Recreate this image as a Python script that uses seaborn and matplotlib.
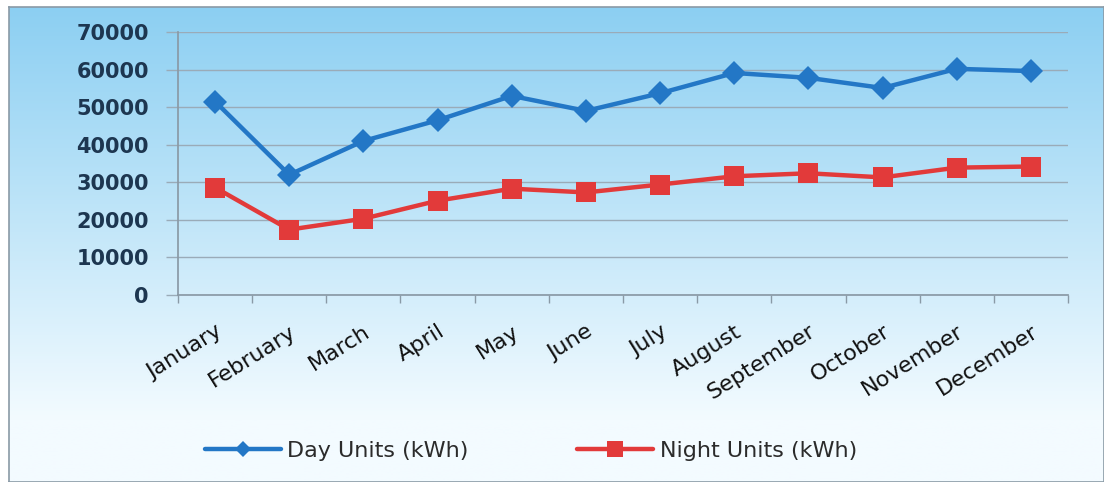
import numpy as np
import pandas as pd
import matplotlib
matplotlib.use("Agg")
import matplotlib.pyplot as plt
import seaborn as sns

months = ["January", "February", "March", "April", "May", "June", "July",
          "August", "September", "October", "November", "December"]
day_units = [51500, 32000, 41000, 46500, 53000, 49000, 53700, 59100, 57800, 55100, 60200, 59600]
night_units = [28600, 17400, 20300, 25100, 28300, 27300, 29400, 31600, 32400, 31300, 33900, 34200]
series_names = ["Day Units (kWh)", "Night Units (kWh)"]
yticks = [0, 10000, 20000, 30000, 40000, 50000, 60000, 70000]

df = pd.DataFrame({
    "month": months * 2,
    "units": day_units + night_units,
    "series": [series_names[0]] * len(months) + [series_names[1]] * len(months),
})

sns.set_theme(style="white")
plt.rcParams["font.family"] = ["DejaVu Sans"]

W, H = 1104, 482
fig = plt.figure(figsize=(W / 100, H / 100), dpi=100)
fig.patch.set_facecolor("white")

# background gradient panel
bg = fig.add_axes([9 / W, 0, 1 - 9 / W, 1 - 7 / H], zorder=0)
top = np.array([0x8c, 0xcf, 0xf2]) / 255
bot = np.array([0xf3, 0xfb, 0xff]) / 255
t = np.linspace(0, 1, 256)[:, None]
t = np.clip(t * 1.15, 0, 1)
grad = top[None, None, :] * (1 - t[..., None]) + bot[None, None, :] * t[..., None]
grad = np.repeat(grad, 2, axis=1)
bg.imshow(grad, aspect="auto", extent=[0, 1, 0, 1], origin="upper")
bg.set_xticks([]); bg.set_yticks([])
for s in bg.spines.values():
    s.set_color("#8a9aa6"); s.set_linewidth(1.2)

ax = fig.add_axes([178 / W, 1 - 295 / H, (1068 - 178) / W, (295 - 32) / H], zorder=1)
ax.patch.set_alpha(0)

palette = {series_names[0]: "#2377c6", series_names[1]: "#e23a3a"}
sns.lineplot(data=df, x="month", y="units", hue="series", style="series",
             markers={series_names[0]: "D", series_names[1]: "s"},
             dashes=False, palette=palette, linewidth=3.2, ax=ax,
             markeredgewidth=0, sort=False, legend=True)
for ln in ax.lines:
    if ln.get_marker() == "D":
        ln.set_markersize(12)
    elif ln.get_marker() == "s":
        ln.set_markersize(15)

ax.set_xlim(-0.5, len(months) - 0.5)
ax.set_ylim(0, 70000)
ax.set_yticks(yticks)
ax.set_yticklabels([str(v) for v in yticks], fontsize=15, fontweight="bold", color="#1d3650")
ax.grid(axis="y", color="#9aabb8", linewidth=1)
ax.set_axisbelow(True)
ax.set_xlabel(""); ax.set_ylabel("")

ax.set_xticks(range(len(months)))
ax.set_xticklabels(months, rotation=32, ha="right", rotation_mode="anchor",
                   fontsize=16, color="#111111")
ax.set_xticks(np.arange(-0.5, len(months), 1), minor=True)
ax.tick_params(axis="x", which="major", length=0, pad=19, bottom=True)
ax.tick_params(axis="x", which="minor", length=6, color="#8a9aa6", direction="out",
               width=1, bottom=True)
ax.tick_params(axis="y", length=9, color="#9aabb8", direction="out", pad=12, width=1, left=True)
for k in ["top", "right"]:
    ax.spines[k].set_visible(False)
ax.spines["left"].set_color("#8a9aa6")
ax.spines["bottom"].set_color("#8a9aa6")

leg = ax.legend(loc="center left", bbox_to_anchor=(205 / W, 1 - 451 / H),
                bbox_transform=fig.transFigure, ncol=2, frameon=False,
                fontsize=16, handlelength=3.4, columnspacing=4.9, handletextpad=0.3,
                borderpad=0, borderaxespad=0)
for txt in leg.get_texts():
    txt.set_color("#2b2b2b")
for h in leg.legend_handles:
    if h.get_marker() == "D":
        h.set_markersize(8)
    elif h.get_marker() == "s":
        h.set_markersize(12)

fig.savefig("out.png", dpi=100)
